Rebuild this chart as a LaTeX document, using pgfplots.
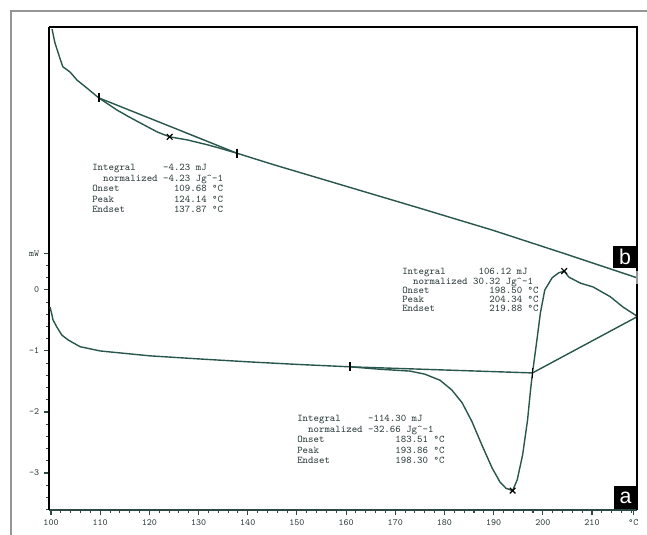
\documentclass[border=0pt]{standalone}
\usepackage{pgfplots}
\pgfplotsset{compat=1.18}
\usepackage{fontspec}
\setmainfont{Liberation Sans}
\setsansfont{Liberation Sans}

\definecolor{trace}{RGB}{40,86,76}
\definecolor{axisteal}{RGB}{45,72,66}
\definecolor{lbl}{RGB}{50,64,64}
\definecolor{framegray}{RGB}{150,150,150}

% one line of an instrument evaluation block, placed in pixel units
\newcommand{\ann}[3]{\node[anchor=base west, inner sep=0pt, text=lbl,
  font=\ttfamily\fontsize{7.7}{9}\selectfont] at (#1,#2) {#3};}

\begin{document}
\begin{tikzpicture}
\useasboundingbox (-36.75pt,-18.75pt) rectangle (448.5pt,382.5pt);
\begin{axis}[
  at={(0pt,0pt)}, anchor=south west,
  scale only axis, width=441pt, height=362.25pt,
  xmin=99.59, xmax=219.15, ymin=-3.607, ymax=4.311,
  axis x line*=bottom, axis y line*=left,
  x axis line style={-, draw=axisteal, line width=0.9pt},
  y axis line style={-, draw=black, line width=2pt},
  tick align=outside,
  xtick={100,110,120,130,140,150,160,170,180,190,200,210},
  xticklabels={100,110,120,130,140,150,160,170,180,190,200,210},
  minor xtick={102,104,...,218},
  ytick={-3,-2,-1,0,0.6},
  yticklabels={-3,-2,-1,0,mW},
  minor ytick={-3.6,-3.4,...,0.5},
  major tick length=3.8pt, minor tick length=2.4pt,
  every tick/.style={axisteal, line width=0.8pt},
  tick label style={text=lbl, font=\ttfamily\fontsize{7.1}{8}\selectfont},
  extra x ticks={218.4}, extra x tick labels={°C},
  clip=false,
]
% frame: top and right edges
\draw[black, line width=1.1pt] (rel axis cs:0,1) -- (rel axis cs:1,1) -- (rel axis cs:1,0);

% curve b (upper trace)
\addplot[trace, line width=1.05pt] coordinates {
  (100.2,4.28) (100.8,4.05) (101.8,3.80) (102.4,3.66) (103.9,3.57)
  (105.3,3.44) (107.3,3.31) (109.68,3.15)
  (111.0,3.08) (113.4,2.95) (115.8,2.84) (118.1,2.74) (121.6,2.59)
  (124.14,2.51) (127.7,2.46) (131.8,2.38) (134.5,2.32) (137.87,2.24)
  (145.0,2.06) (160.0,1.70) (175.0,1.34) (189.8,0.98) (205.0,0.58)
  (219.15,0.20)};
% baseline of the step in b
\addplot[trace, line width=1.05pt] coordinates {(109.68,3.15) (137.87,2.24)};

% curve a (lower trace)
\addplot[trace, line width=1.05pt] coordinates {
  (99.8,-0.28) (100.2,-0.41) (100.4,-0.49) (101.2,-0.61) (102.2,-0.74)
  (103.5,-0.82) (105.9,-0.93) (110.0,-1.00) (120.1,-1.08) (130.0,-1.13)
  (140.5,-1.18) (150.0,-1.22) (160.8,-1.26) (166.9,-1.30) (173.0,-1.33)
  (176.0,-1.38) (179.1,-1.48) (181.5,-1.64) (183.6,-1.85) (185.6,-2.16)
  (187.6,-2.54) (189.7,-2.92) (191.3,-3.15) (192.5,-3.25) (193.86,-3.29)
  (194.8,-3.11) (195.9,-2.70) (196.9,-2.13) (197.5,-1.64) (197.9,-1.36)
  (198.8,-0.82) (199.5,-0.38) (200.4,0.00) (201.9,0.20) (203.2,0.28)
  (204.34,0.31) (205.3,0.21) (207.7,0.11) (210.2,0.05) (213.7,-0.11)
  (216.3,-0.28) (218.8,-0.41) (219.15,-0.44)};
% integration baselines of a
\addplot[trace, line width=1.05pt] coordinates {(160.8,-1.26) (197.9,-1.36) (219.15,-0.44)};

% integration limits
\addplot[only marks, mark=|, mark size=3.5pt, mark options={black, line width=1.4pt}]
  coordinates {(109.68,3.15) (137.87,2.24) (160.8,-1.26) (197.9,-1.36) (219.15,-0.44)};
\addplot[only marks, mark=|, mark size=5pt, mark options={framegray, line width=1pt}]
  coordinates {(219.15,0.20)};
% peak positions
\addplot[only marks, mark=x, mark size=3pt, mark options={black, line width=0.9pt}]
  coordinates {(124.14,2.51) (193.86,-3.29) (204.34,0.31)};
\end{axis}

\begin{scope}[shift={(-36.75pt,382.5pt)}, x=0.75pt, y=-0.75pt]
  \draw[framegray, line width=0.8pt] (11,536) -- (11,11) -- (648,11);

  \ann{92}{171}{Integral~~~~~-4.23~mJ}
  \ann{92}{181.5}{~~normalized~-4.23~Jg\textasciicircum-1}
  \ann{92}{192}{Onset~~~~~~~~~~109.68~°C}
  \ann{92}{202.5}{Peak~~~~~~~~~~~124.14~°C}
  \ann{92}{213}{Endset~~~~~~~~~137.87~°C}

  \ann{402}{275}{Integral~~~~~~106.12~mJ}
  \ann{402}{284.3}{~~normalized~30.32~Jg\textasciicircum-1}
  \ann{402}{293.5}{Onset~~~~~~~~~~~198.50~°C}
  \ann{402}{302.8}{Peak~~~~~~~~~~~~204.34~°C}
  \ann{402}{312}{Endset~~~~~~~~~~219.88~°C}

  \ann{297}{422}{Integral~~~~~-114.30~mJ}
  \ann{297}{432.5}{~~normalized~-32.66~Jg\textasciicircum-1}
  \ann{297}{443}{Onset~~~~~~~~~~~~~183.51~°C}
  \ann{297}{453.5}{Peak~~~~~~~~~~~~~~193.86~°C}
  \ann{297}{464}{Endset~~~~~~~~~~~~198.30~°C}

  \node[fill=black, text=white, font=\sffamily\fontsize{16}{16}\selectfont,
        minimum width=18pt, minimum height=17pt, inner sep=0pt] at (625,257) {b};
  \node[fill=black, text=white, font=\sffamily\fontsize{16}{16}\selectfont,
        minimum width=18pt, minimum height=17pt, inner sep=0pt] at (625.5,497.5) {a};
\end{scope}
\end{tikzpicture}
\end{document}
